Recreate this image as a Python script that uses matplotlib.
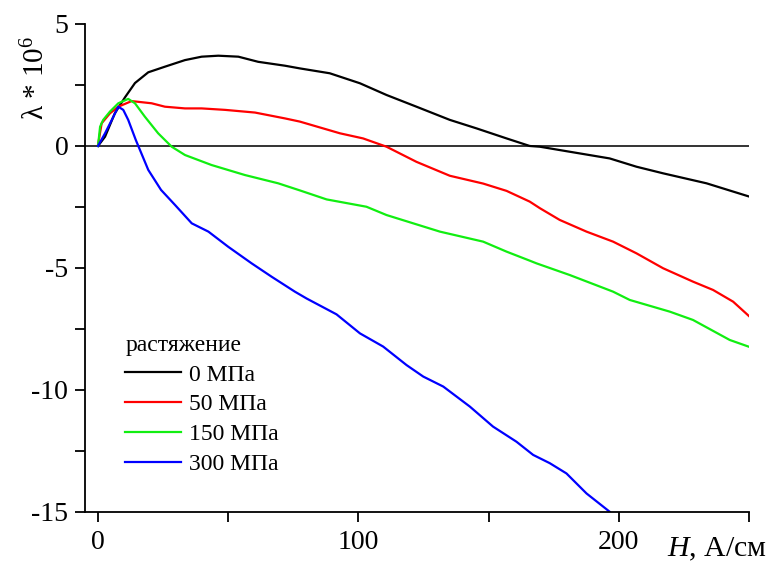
import matplotlib
matplotlib.use("Agg")
import matplotlib.pyplot as plt
from matplotlib.ticker import FixedLocator, FuncFormatter

plt.rcParams['font.family'] = ['Liberation Serif', 'DejaVu Serif']
plt.rcParams['axes.unicode_minus'] = False
plt.rcParams['mathtext.fontset'] = 'custom'
plt.rcParams['mathtext.rm'] = 'Liberation Serif'
plt.rcParams['mathtext.it'] = 'Liberation Serif:italic'

# 0 MPa
h0 = [0, 2.7, 6.5, 10.4, 14.2, 19.3, 25.7, 33.4, 39.8, 46.2, 53.9, 61.5, 71.8, 77.5, 89, 100.6,
      110.8, 122.3, 135.1, 145.4, 156.9, 165.8, 169.7, 178.6, 196.5, 206.8, 217, 233.7, 250.3]
l0 = [0, 0.38, 1.35, 2.0, 2.58, 3.02, 3.25, 3.52, 3.66, 3.70, 3.66, 3.45, 3.29, 3.18, 2.98, 2.57,
      2.09, 1.61, 1.07, 0.72, 0.31, 0.0, -0.03, -0.19, -0.51, -0.85, -1.12, -1.53, -2.08]
# 50 MPa
h50 = [0, 1.4, 4.6, 7.8, 12.9, 20.6, 25.7, 33.4, 39.8, 48.8, 60.3, 71.8, 77.5, 92.9, 101.8,
       110.8, 122.3, 135.1, 147.9, 156.9, 165.8, 169.7, 177.3, 187.6, 197.8, 206.8, 217,
       228.5, 236.2, 243.9, 250.3]
l50 = [0.04, 0.93, 1.34, 1.61, 1.84, 1.75, 1.61, 1.54, 1.54, 1.48, 1.37, 1.13, 1.0, 0.52, 0.31,
       -0.03, -0.65, -1.22, -1.54, -1.84, -2.28, -2.55, -3.03, -3.51, -3.92, -4.40, -5.01,
       -5.56, -5.90, -6.38, -7.0]
# 150 MPa
h150 = [0, 0.8, 2, 4.6, 7.8, 11.6, 14.2, 18, 23.1, 28.3, 33.4, 43.6, 56.4, 69.2, 77.5, 87.8,
        103.1, 110.8, 131.3, 147.9, 156.9, 165.8, 168.4, 181.2, 197.8, 204.2, 219.6, 228.5,
        242.6, 250.3]
l150 = [0, 0.79, 1.07, 1.41, 1.75, 1.93, 1.75, 1.20, 0.52, -0.03, -0.37, -0.78, -1.19, -1.53,
        -1.82, -2.19, -2.49, -2.83, -3.51, -3.92, -4.33, -4.70, -4.81, -5.29, -5.97, -6.31,
        -6.79, -7.13, -7.95, -8.24]
# 300 MPa
h300 = [0, 2.7, 5.3, 7.8, 9.7, 11.6, 14.5, 19.3, 24.2, 29.6, 36, 42.4, 50, 59, 66.7, 75.6,
        80.1, 91.6, 100.6, 109.5, 118.5, 124.9, 132.6, 142.8, 151.7, 160.7, 167.1, 173.5,
        179.9, 187.6, 196.5]
l300 = [0, 0.52, 1.07, 1.61, 1.48, 1.07, 0.25, -0.98, -1.80, -2.42, -3.17, -3.51, -4.13, -4.81,
        -5.36, -5.97, -6.25, -6.90, -7.68, -8.22, -8.98, -9.45, -9.86, -10.68, -11.50, -12.12,
        -12.66, -13.0, -13.42, -14.24, -14.99]

series = [(h0, l0, 'black', '0 МПа'),
          (h50, l50, '#ff0000', '50 МПа'),
          (h150, l150, '#11ee11', '150 МПа'),
          (h300, l300, '#0000ff', '300 МПа')]

fig = plt.figure(figsize=(7.74, 5.63), dpi=100)
ax = fig.add_axes([0.1098, 0.0906, 0.9677 - 0.1098, 0.9574 - 0.0906])

ax.axhline(0, color='#333333', lw=1.4, zorder=1)
for h, l, c, lab in series:
    ax.plot(h, l, color=c, lw=1.6, label=lab, zorder=2)

ax.set_xlim(-5, 250)
ax.set_ylim(-15, 5)
for s in ['top', 'right']:
    ax.spines[s].set_visible(False)
for s in ['left', 'bottom']:
    ax.spines[s].set_linewidth(1.3)

ax.xaxis.set_major_locator(FixedLocator([0, 100, 200]))
ax.xaxis.set_minor_locator(FixedLocator([50, 150, 250]))
ax.yaxis.set_major_locator(FixedLocator([-15, -10, -5, 0, 5]))
ax.yaxis.set_minor_locator(FixedLocator([-12.5, -7.5, -2.5, 2.5]))
ax.yaxis.set_major_formatter(FuncFormatter(lambda v, p: '%d' % v))
ax.tick_params(which='both', direction='out', length=7, width=1.3, labelsize=20)
ax.tick_params(axis='x', pad=6)
ax.tick_params(axis='y', pad=5)

leg = ax.legend(loc='upper left', bbox_to_anchor=(0.0605, 0.363), frameon=False,
                title='растяжение', fontsize=17, title_fontsize=17,
                handlelength=2.35, handletextpad=0.35, labelspacing=0.35,
                borderpad=0, borderaxespad=0)
leg._legend_box.align = 'left'

fig.text(0.047, 0.862, 'λ * 10$^{6}$', rotation=90, ha='center', va='center',
         fontsize=21)
fig.text(0.862, 0.0124, '$\\mathit{H}$, А/см', ha='left', va='baseline', fontsize=21.5)

fig.savefig('out.png', dpi=100)
